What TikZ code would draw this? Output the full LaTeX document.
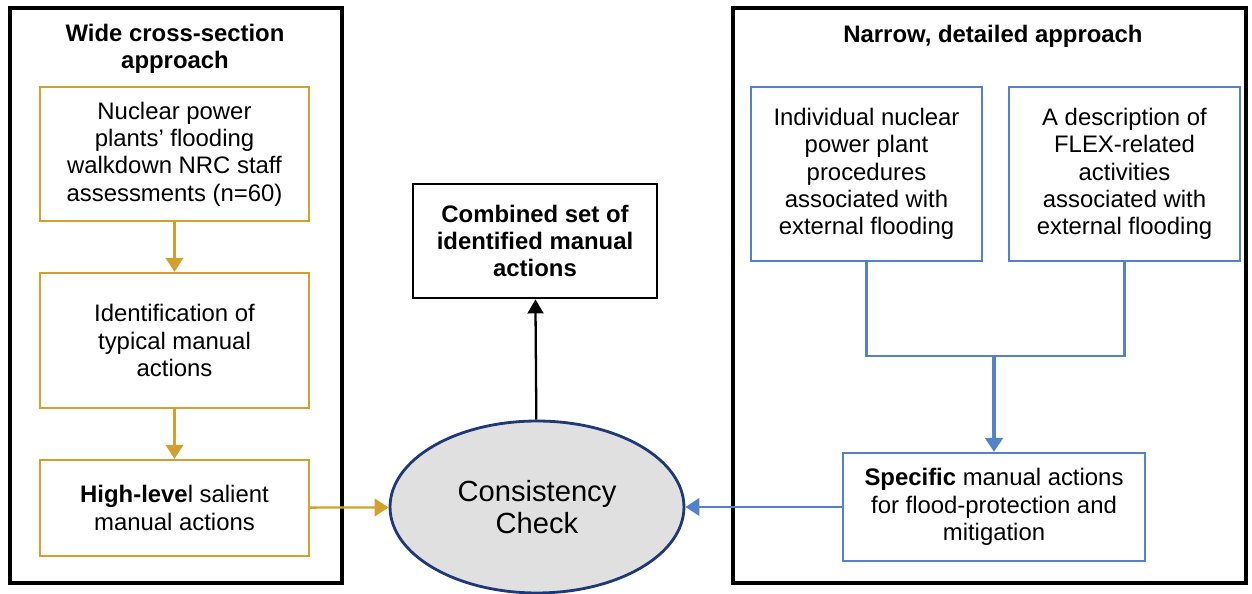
\documentclass[tikz,border=0pt]{standalone}
\usepackage{fontspec}
\setmainfont{Liberation Sans}
\usetikzlibrary{positioning, calc, shapes.geometric, arrows.meta}
\definecolor{gold}{RGB}{212,160,45}
\definecolor{steel}{RGB}{84,130,200}
\definecolor{navy}{RGB}{31,56,120}
\definecolor{pale}{RGB}{224,224,224}

\begin{document}
\begin{tikzpicture}[x=0.02cm, y=-0.02cm, font=\fontsize{13.6}{15.6}\selectfont,
  outer/.style={rectangle,draw,line width=2.6pt,minimum width=#1,minimum height=11.5cm},
  gblock/.style={rectangle,draw=gold,line width=1.3pt,minimum width=5.38cm,align=center},
  bblock/.style={rectangle,draw=steel,line width=1.3pt,align=center},
  garrow/.style={-{Triangle[length=8pt,width=10pt]}, gold, line width=1.3pt},
  barrow/.style={-{Triangle[length=8pt,width=10pt]}, steel, line width=1.3pt}]
\useasboundingbox (0,0) rectangle (1252,594);
% left side
\node (wide) [outer=6.64cm] at (176,295.5) {};
\node (widetitle) [align=center, font=\fontsize{13.6}{15.6}\selectfont\bfseries] at (175,49) {Wide cross-section\\approach};
\node (walk) [gblock, minimum height=2.68cm] at (174.5,154) {Nuclear power\\plants’ flooding\\walkdown NRC staff\\assessments (n=60)};
\node (typical) [gblock, minimum height=2.7cm] at (174.5,340.5) {Identification of\\typical manual\\actions};
\node (salient) [gblock, minimum height=1.92cm] at (174.5,508) {\textbf{High-leve}l salient\\manual actions};
% right side
\node (narrow) [outer=10.26cm] at (989.5,295.5) {};
\node (narrowtitle) [font=\fontsize{13.6}{15.6}\selectfont\bfseries] at (993,36) {Narrow, detailed approach};
\node (proc) [bblock, minimum width=4.62cm, minimum height=3.48cm] at (866.5,174) {Individual nuclear\\power plant\\procedures\\associated with\\external flooding};
\node (flex) [bblock, minimum width=4.62cm, minimum height=3.48cm] at (1124.5,174) {A description of\\FLEX-related\\activities\\associated with\\external flooding};
\node (specific) [bblock, minimum width=6.04cm, minimum height=2.16cm] at (994,507) {\textbf{Specific} manual actions\\for flood-protection and\\mitigation};
\coordinate (join) at (994,356);
% middle
\node (check) [ellipse, draw=navy, line width=1.6pt, fill=pale, inner sep=0pt, minimum width=5.88cm, minimum height=3.44cm, align=center, font=\fontsize{16.6}{18.4}\selectfont] at (537,507) {Consistency\\Check};
\node (combined) [rectangle, draw, line width=1.6pt, minimum width=4.88cm, minimum height=2.28cm, align=center, font=\fontsize{13.6}{15.6}\selectfont\bfseries] at (535,241) {Combined set of\\identified manual\\actions};
  \begin{scope}
    \draw [garrow] (walk) -- (typical);
    \draw [garrow] (typical) -- (salient);
    \draw [garrow] (salient) -- (check);
  \end{scope}
  \begin{scope}
    \draw [steel, line width=1.3pt] (proc.south) |- (join) -| (flex.south);
    \draw [-{Triangle[length=8pt,width=10pt]}, steel, line width=2.2pt] (join) -- (specific.north);
    \draw [barrow] (specific) -- (check);
    \draw [-{Triangle[length=8pt,width=9pt]}, line width=1.3pt] (check) -- (combined);
  \end{scope}
\end{tikzpicture}
\end{document}
